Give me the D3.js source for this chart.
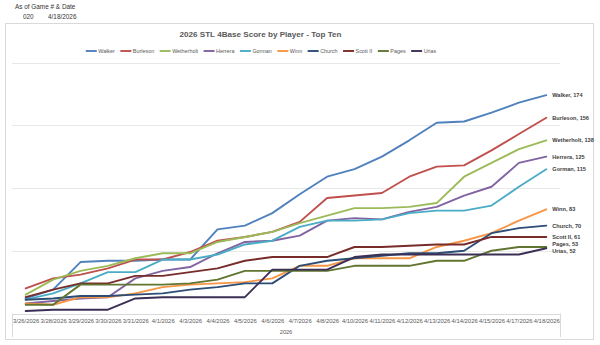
<!DOCTYPE html>
<html>
<head>
<meta charset="utf-8">
<script src="https://cdn.jsdelivr.net/npm/d3@7/dist/d3.min.js"></script>
<style>
  html, body { margin: 0; padding: 0; background: #ffffff; }
  svg { display: block; font-family: "Liberation Sans", Arial, sans-serif; }
</style>
</head>
<body>
<svg id="chart" width="600" height="345"></svg>
<script>
// ---------------- DATA ----------------
const dates = ["3/26/2026","3/28/2026","3/29/2026","3/30/2026","3/31/2026","4/1/2026","4/3/2026","4/4/2026","4/5/2026","4/6/2026",
               "4/7/2026","4/8/2026","4/10/2026","4/11/2026","4/12/2026","4/13/2026","4/14/2026","4/15/2026","4/17/2026","4/18/2026"];
const players = ["Walker","Burleson","Wetherholt","Herrera","Gorman","Winn","Church","Scott II","Pages","Urias"];
const colors  = ["#4F81BD","#C0504D","#9BBB59","#8064A2","#4BACC6","#F79646","#2C4D75","#772C2A","#5F7530","#3B2F55"];

const walker     = [12,19,41,42,42,43,43,67,70,80,95,109,115,125,138,152,153,160,168,174];
const burleson   = [20,28,31,36,43,43,49,58,61,65,73,92,94,96,109,117,118,130,143,156];
const wetherholt = [15,27,34,38,44,48,48,57,61,65,72,78,84,84,85,88,109,120,131,138];
const herrera    = [8,10,12,13,28,34,37,48,57,58,62,74,76,75,81,85,94,101,120,125];
const gorman     = [11,16,24,33,33,43,43,47,55,58,69,74,74,75,80,82,82,86,101,115];
const winn       = [8,7,13,13,16,21,23,24,25,28,38,38,44,44,44,53,58,64,74,83];
const church     = [11,12,14,14,15,16,19,21,24,24,38,42,44,46,48,48,50,64,68,70];
const scottII    = [13,19,24,24,30,30,33,36,42,45,45,45,53,53,54,55,55,61,61,61];
const pages      = [7,7,23,23,23,23,24,27,34,34,34,34,38,38,38,42,42,50,53,53];
const urias      = [2,3,3,3,12,13,13,13,13,35,35,35,45,47,47,47,47,47,47,52];

const seriesValues = [walker, burleson, wetherholt, herrera, gorman, winn, church, scottII, pages, urias];
const yTicks = [0, 50, 100, 150, 200];
const headerLabel = "As of Game # & Date";
const headerGame = "020";
const headerDate = "4/18/2026";
const chartTitle = "2026 STL 4Base Score by Player - Top Ten";
const axisGroupLabel = "2026";

// ---------------- DRAW ----------------
const svg = d3.select("#chart");
const series = players.map((p, i) => ({ name: p, color: colors[i], values: seriesValues[i] }));

// header (worksheet cells)
svg.append("text").attr("x", 15).attr("y", 8.5).attr("font-size", 6.4).attr("fill", "#333")
   .text(headerLabel);
svg.append("text").attr("x", 23).attr("y", 18.5).attr("font-size", 6.4).attr("fill", "#333")
   .text(headerGame);
svg.append("text").attr("x", 48).attr("y", 18.5).attr("font-size", 6.4).attr("fill", "#333")
   .text(headerDate);

// chart frame
svg.append("rect").attr("x", 5.5).attr("y", 23.5).attr("width", 588).attr("height", 316)
   .attr("fill", "#fff").attr("stroke", "#d9d9d9").attr("stroke-width", 1);

// title
svg.append("text").attr("x", 260.5).attr("y", 37).attr("text-anchor", "middle")
   .attr("font-size", 8.1).attr("font-weight", "bold").attr("fill", "#595959")
   .text(chartTitle);

// scales
const x = d3.scalePoint().domain(dates).range([12, 560]).padding(0.5);
const y = d3.scaleLinear().domain([0, 200]).range([313.5, 62.5]);

// gridlines
svg.append("g").selectAll("line").data(yTicks.filter(t => t > 0)).join("line")
   .attr("x1", 12).attr("x2", 560)
   .attr("y1", d => Math.round(y(d)) + 0.5).attr("y2", d => Math.round(y(d)) + 0.5)
   .attr("stroke", "#e8e8e8").attr("stroke-width", 1);

// x axis
const xAxis = d3.axisBottom(x).tickSize(0).tickPadding(4.5);
const gx = svg.append("g").attr("transform", `translate(0,${Math.round(y(0)) + 0.5})`).call(xAxis);
gx.select(".domain").attr("stroke", "#d9d9d9").attr("d", "M12,0H560");
gx.selectAll("text").attr("font-size", 5.9).attr("fill", "#595959")
   .attr("font-family", "Liberation Sans, Arial, sans-serif");
// group bracket lines
[12, 560].forEach(xx => {
  svg.append("line").attr("x1", xx + 0.5).attr("x2", xx + 0.5).attr("y1", y(0)).attr("y2", 337)
     .attr("stroke", "#d9d9d9").attr("stroke-width", 1);
});
svg.append("text").attr("x", 286).attr("y", 334).attr("text-anchor", "middle")
   .attr("font-size", 5.6).attr("fill", "#595959").text(axisGroupLabel);

// lines
const line = d3.line().x((d, i) => x(dates[i])).y(d => y(d));
svg.append("g").selectAll("path").data(series).join("path")
   .attr("d", d => line(d.values))
   .attr("fill", "none").attr("stroke", d => d.color)
   .attr("stroke-width", 1.9).attr("stroke-linejoin", "round").attr("stroke-linecap", "round");

// end labels with simple collision avoidance
const lastX = x(dates[dates.length - 1]);
const endLabels = series.map(s => ({ s, yy: y(s.values[s.values.length - 1]) }))
                        .sort((a, b) => a.yy - b.yy);
const minGap = 6.2;
for (let k = 1; k < endLabels.length; k++) {
  if (endLabels[k].yy - endLabels[k - 1].yy < minGap) {
    const mid = (endLabels[k].yy + endLabels[k - 1].yy) / 2;
    endLabels[k - 1].yy = mid - minGap / 2;
    endLabels[k].yy = mid + minGap / 2;
  }
}
svg.append("g").selectAll("text").data(endLabels).join("text")
   .attr("x", lastX + 6).attr("y", d => d.yy).attr("dy", "0.35em")
   .attr("font-size", 5.6).attr("font-weight", "bold").attr("fill", "#404040")
   .text(d => `${d.s.name}, ${d.s.values[d.s.values.length - 1]}`);

// legend
const legend = svg.append("g");
let cx = 0;
const items = [];
series.forEach(s => {
  const g = legend.append("g");
  g.append("line").attr("x1", 0).attr("x2", 11).attr("y1", 0).attr("y2", 0)
   .attr("stroke", s.color).attr("stroke-width", 1.9);
  const t = g.append("text").attr("x", 12.5).attr("y", 0).attr("dy", "0.35em")
   .attr("font-size", 5.4).attr("fill", "#595959").text(s.name);
  const w = 12.5 + t.node().getComputedTextLength();
  items.push({ g, w });
});
const gap = 5.5;
const total = d3.sum(items, d => d.w) + gap * (items.length - 1);
cx = 261 - total / 2;
items.forEach(it => {
  it.g.attr("transform", `translate(${cx},51)`);
  cx += it.w + gap;
});
</script>
</body>
</html>
